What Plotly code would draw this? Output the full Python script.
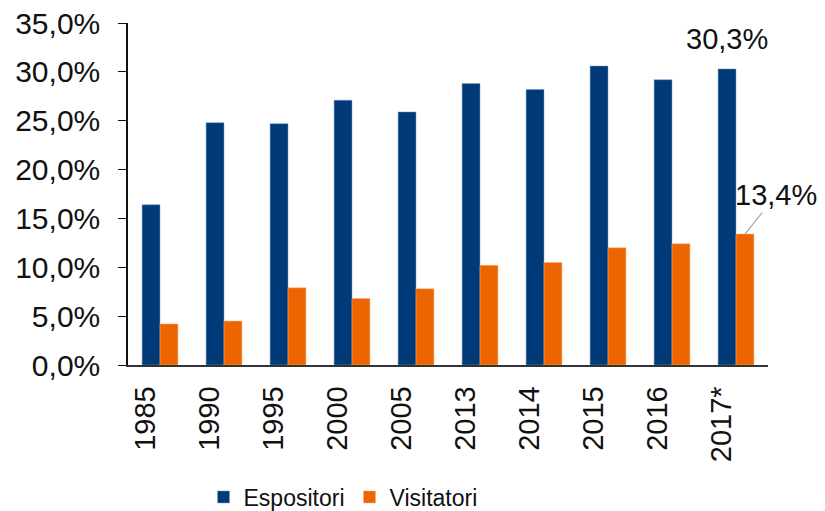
import plotly.graph_objects as go

years = ["1985", "1990", "1995", "2000", "2005", "2013", "2014", "2015", "2016", "2017*"]
espositori = [16.4, 24.8, 24.7, 27.1, 25.9, 28.8, 28.2, 30.6, 29.2, 30.3]
visitatori = [4.2, 4.5, 7.9, 6.8, 7.8, 10.2, 10.5, 12.0, 12.4, 13.4]

FONT = "Liberation Sans, Arial, sans-serif"
BLUE = "#003a78"
ORANGE = "#ec6500"

fig = go.Figure()
fig.add_trace(go.Bar(name="Espositori", x=years, y=espositori, marker_color=BLUE,
                     marker_line=dict(color="#7f9cc0", width=0.5)))
fig.add_trace(go.Bar(name="Visitatori", x=years, y=visitatori, marker_color=ORANGE,
                     marker_line=dict(color="#f5b27f", width=0.5)))

last = len(years) - 1
fig.add_annotation(x=years[last], y=espositori[last], xref="x", yref="y",
                   text=f"{espositori[last]:.1f}%".replace(".", ","),
                   showarrow=False, xshift=-9, yshift=12, yanchor="bottom",
                   font=dict(family=FONT, size=29, color="#111111"))
fig.add_annotation(x=years[last], y=visitatori[last], xref="x", yref="y",
                   text=f"{visitatori[last]:.1f}%".replace(".", ","),
                   showarrow=True, arrowhead=0, arrowwidth=1.2, arrowcolor="#a6a6a6",
                   ax=31, ay=-39, xshift=9,
                   font=dict(family=FONT, size=29, color="#111111"))

# page has 8px body margin; figure sized to fit the 825x511 window
fig.update_layout(
    width=817, height=503,
    margin=dict(l=120, r=57, t=15, b=146, autoexpand=False),
    paper_bgcolor="white", plot_bgcolor="white",
    barmode="group", bargap=0.44, bargroupgap=0,
    separators=",.",
    font=dict(family=FONT, size=29, color="#111111"),
    showlegend=True,
    legend=dict(orientation="h", x=0.118, xanchor="left", y=-0.386, yanchor="middle",
                font=dict(family=FONT, size=23, color="#111111"),
                itemwidth=30, traceorder="normal"),
    yaxis=dict(range=[0, 35], dtick=5, tickformat=".1f", ticksuffix="%",
               automargin=False, ticklabelstandoff=12, ticklabeloverflow="allow",
               showgrid=False, zeroline=False, showline=True, linecolor="#111111",
               linewidth=1.5, ticks="outside", ticklen=8, tickcolor="#111111",
               tickfont=dict(family=FONT, size=30, color="#111111")),
    xaxis=dict(range=[-0.5, len(years) - 0.5], tickangle=-90, automargin=False,
               showgrid=False, showline=True, ticklabeloverflow="allow",
               ticklabelstandoff=8, ticklabelshift=-14,
               linecolor="#333333", linewidth=1.5, ticks="",
               tickfont=dict(family=FONT, size=29, color="#111111")),
)

fig.write_html("out.html")
